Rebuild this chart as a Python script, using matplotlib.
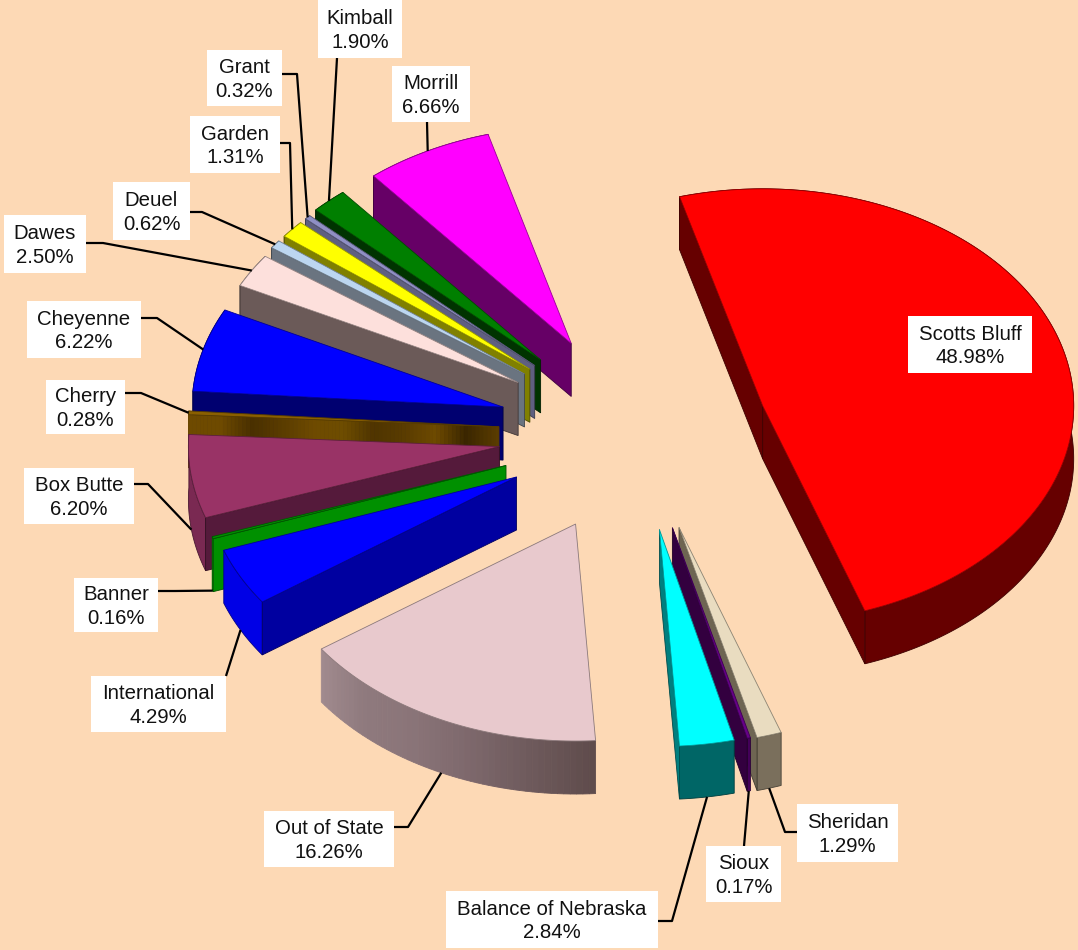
import numpy as np
import matplotlib
matplotlib.use("Agg")
import matplotlib.pyplot as plt
from matplotlib.patches import Polygon, Rectangle
from matplotlib.colors import to_rgb

names = ["Scotts Bluff", "Sheridan", "Sioux", "Balance of Nebraska", "Out of State",
         "International", "Banner", "Box Butte", "Cherry", "Cheyenne", "Dawes",
         "Deuel", "Garden", "Grant", "Kimball", "Morrill"]
shares = [48.98, 1.29, 0.17, 2.84, 16.26, 4.29, 0.16, 6.20, 0.28, 6.22, 2.50,
          0.62, 1.31, 0.32, 1.90, 6.66]

top_colors = ["#ff0000", "#e9dcc0", "#660088", "#00ffff", "#e8c9cd", "#0000ff", "#009000",
              "#993366", "#8a5f00", "#0000ff", "#fde0dc", "#bcd6f0", "#ffff00",
              "#8f8fc4", "#007f00", "#ff00ff"]
side_colors = ["#660000", "#6e6552", "#33003f", "#007f7f", "#6b5656", "#0000a0", "#009000",
               "#551a3b", "#6e4a00", "#000070", "#6b5a58", "#6a7480", "#808000",
               "#5f5f80", "#003300", "#660066"]
rim_colors = ["#660000", "#7a6f5c", "#44005a", "#006666", "#8f7a7e", "#0000e6", "#00a000",
              "#7a2952", "#6e4a00", "#000099", "#7a6a68", "#6a7480", "#808000",
              "#5f5f80", "#004000", "#800080"]
# exploded distance of each slice, as a fraction of the radius
explode = [0.42, 0.455, 0.45, 0.45, 0.465, 0.44, 0.45, 0.45, 0.448, 0.45, 0.45,
           0.455, 0.455, 0.455, 0.46, 0.465]

cherry_bands = ["#6e4a00", "#6e4a00", "#4a3000", "#5a3c00", "#6e4a00", "#6e4d00",
                "#4f3400", "#5a3c00", "#6e4a00", "#3a2600", "#5a3c00"]
wall_fade = ["#a08a8e", "#8f7a7e", "#8a7478", "#7d686c", "#6e5a5c", "#5f4c4c"]

# white label boxes: x0, y0, x1, y1
label_boxes = [(908, 316, 1032, 373), (797, 804, 898, 862), (706, 846, 781, 902),
               (446, 891, 658, 948), (264, 811, 394, 867), (91, 676, 226, 732),
               (74, 578, 158, 632), (24, 468, 134, 524), (46, 380, 125, 434),
               (27, 301, 141, 358), (4, 215, 86, 273), (113, 182, 190, 240),
               (190, 116, 280, 173), (207, 50, 282, 106), (318, 0, 402, 58),
               (392, 66, 470, 122)]
# leader line points on the label side, the slice end is worked out below
leader_starts = [None, [(797, 832), (785, 832)], [(744, 846)], [(658, 921), (672, 921)],
                 [(394, 827), (408, 827)], [(226, 676)], [(158, 591), (175, 591)],
                 [(134, 484), (148, 484)], [(125, 393), (141, 393)], [(141, 318), (157, 318)],
                 [(86, 243), (103, 243)], [(190, 212), (202, 212)], [(280, 143), (290, 143)],
                 [(282, 74), (297, 74)], [(337, 58)], [(427, 122)]]

bg = "#fdd9b5"
cx, cy = 638, 433
rx, ry = 311, 217
depth = 53
start = -15.5

plt.rcParams['font.family'] = ['Liberation Sans', 'DejaVu Sans']
fig = plt.figure(figsize=(10.78, 9.5), dpi=100, facecolor=bg)
ax = fig.add_axes([0, 0, 1, 1])
ax.set_xlim(0, 1078)
ax.set_ylim(950, 0)
ax.axis("off")


def ell(a):
    a = np.radians(a)
    return np.column_stack([rx * np.sin(a), -ry * np.cos(a)])


def face(pts, color, z, edge=True):
    ec = tuple(c * 0.6 for c in to_rgb(color)) if edge else color
    ax.add_patch(Polygon(pts, closed=True, fc=color, ec=ec, lw=0.6, zorder=z))


def fade(colors, n):
    rgb = np.array([to_rgb(c) for c in colors])
    pos = np.linspace(0, 1, len(colors))
    t = np.linspace(0, 1, n)
    return [tuple(np.interp(v, pos, rgb[:, k]) for k in range(3)) for v in t]


def faces_down(apex, corner, other):
    # a cut face shows only when its outward side turns towards the viewer
    d = corner - apex
    n = np.array([-d[1], d[0]])
    if np.dot(n, other - apex) > 0:
        n = -n
    return n[1] > 0


edges = start + np.cumsum([0] + shares) * 3.6
apexes = []
mids = []
for i in range(len(names)):
    m = (edges[i] + edges[i + 1]) / 2
    mids.append(m)
    apexes.append(np.array([cx, cy]) + ell(m)[0] * explode[i])

# back to front, each slice paints over the ones behind it
order = list(range(15, 6, -1)) + [6, 5] + [1, 2, 3, 4, 0]
z = 2
down = np.array([0, depth])
for i in order:
    apex = apexes[i]
    arc = apex + ell(np.linspace(edges[i], edges[i + 1], max(8, int(shares[i] * 12))))

    # outer rim
    if names[i] == "Out of State":
        n = 50
        angs = np.linspace(edges[i + 1], edges[i], n + 1)
        for k, col in enumerate(fade(wall_fade, n)):
            seg = apex + ell(np.linspace(angs[k], angs[k + 1], 4))
            face(np.vstack([seg, (seg + down)[::-1]]), col, z, edge=False)
    else:
        face(np.vstack([arc, (arc + down)[::-1]]), rim_colors[i], z)

    # the cut faces that can be seen
    for corner, other in ((arc[0], arc[-1]), (arc[-1], arc[0])):
        if not faces_down(apex, corner, other):
            continue
        if names[i] == "Cherry":
            n = 80
            t = np.linspace(0, 1, n + 1)
            for k, col in enumerate(fade(cherry_bands, n)):
                p0 = corner + (apex - corner) * t[k]
                p1 = corner + (apex - corner) * t[k + 1]
                face([p0, p1, p1 + down, p0 + down], col, z, edge=False)
        else:
            face([apex, corner, corner + down, apex + down], side_colors[i], z)

    # top
    face(np.vstack([apex, arc]), top_colors[i], z + 0.5)
    z += 1

# labels and leader lines
for i, name in enumerate(names):
    x0, y0, x1, y1 = label_boxes[i]
    ax.add_patch(Rectangle((x0, y0), x1 - x0, y1 - y0, fc="white", ec="none", zorder=50))
    ax.text((x0 + x1) / 2, (y0 + y1) / 2 + 1.5, "%s\n%.2f%%" % (name, shares[i]), ha="center",
            va="center", fontsize=14.7, linespacing=1.3, color="#111111", zorder=51)
    if leader_starts[i] is None:
        continue
    end = apexes[i] + ell(mids[i])[0]
    if np.cos(np.radians(mids[i])) < 0:
        end = end + down
    pts = np.array(leader_starts[i] + [tuple(end)])
    ax.plot(pts[:, 0], pts[:, 1], color="black", lw=1.6, zorder=40, solid_capstyle="butt")

fig.savefig("out.png", dpi=100, facecolor=bg)
